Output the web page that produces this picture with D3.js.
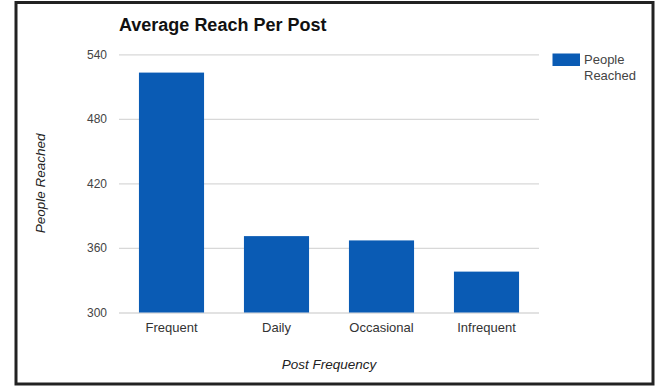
<!DOCTYPE html>
<html>
<head>
<meta charset="utf-8">
<script src="https://cdn.jsdelivr.net/npm/d3@7/dist/d3.min.js"></script>
<style>
  html, body { margin: 0; padding: 0; background: #fff; }
  svg { display: block; font-family: Arial, "Liberation Sans", sans-serif; }
</style>
</head>
<body>
<svg id="chart" width="666" height="387"></svg>
<script>
// Average reach per post, by posting frequency
const categories = ["Frequent", "Daily", "Occasional", "Infrequent"];
const peopleReached = [523, 371, 367, 338];
const yTicks = [300, 360, 420, 480, 540];
const seriesName = "People Reached";
const title = "Average Reach Per Post";
const xTitle = "Post Frequency";
const yTitle = "People Reached";

const svg = d3.select("#chart");
const plot = { left: 119, right: 539, top: 54.3, bottom: 312.5 };

// Frame around the whole chart
svg.append("rect")
  .attr("x", 16).attr("y", 2.5).attr("width", 637).attr("height", 381.5)
  .attr("fill", "#fff").attr("stroke", "#222").attr("stroke-width", 3);

const x = d3.scaleBand()
  .domain(categories)
  .range([plot.left, plot.right])
  .paddingInner(0.38)
  .paddingOuter(0.19);

const y = d3.scaleLinear()
  .domain([300, 540])
  .range([plot.bottom, plot.top]);

// Gridlines and y tick labels
const yAxis = d3.axisLeft(y).tickValues(yTicks).tickSize(-(plot.right - plot.left)).tickPadding(12).tickFormat(d3.format("d"));
const gy = svg.append("g").attr("transform", `translate(${plot.left},0)`).call(yAxis);
gy.select(".domain").remove();
gy.selectAll(".tick line").attr("stroke", "#d8d8d8").attr("stroke-width", 1.3);
gy.selectAll(".tick text").attr("fill", "#444").attr("font-size", 12).attr("font-family", "Arial, 'Liberation Sans', sans-serif");

// Bars
svg.append("g").selectAll("rect")
  .data(categories.map((c, i) => ({ c, v: peopleReached[i] })))
  .join("rect")
  .attr("x", d => x(d.c))
  .attr("width", x.bandwidth())
  .attr("y", d => y(d.v))
  .attr("height", d => y(300) - y(d.v))
  .attr("fill", "#0a5bb4");

// Category labels
const xAxis = d3.axisBottom(x).tickSize(0).tickPadding(10);
const gx = svg.append("g").attr("transform", `translate(0,${plot.bottom})`).call(xAxis);
gx.select(".domain").remove();
gx.selectAll(".tick text").attr("fill", "#333").attr("font-size", 13).attr("font-family", "Arial, 'Liberation Sans', sans-serif");

// Title
svg.append("text")
  .attr("x", 119).attr("y", 31)
  .attr("font-size", 18).attr("font-weight", "bold").attr("fill", "#111")
  .text(title);

// Axis titles
svg.append("text")
  .attr("x", (plot.left + plot.right) / 2).attr("y", 369)
  .attr("text-anchor", "middle").attr("font-style", "italic")
  .attr("font-size", 13.5).attr("fill", "#222")
  .text(xTitle);

svg.append("text")
  .attr("transform", `translate(45,${(plot.top + plot.bottom) / 2}) rotate(-90)`)
  .attr("text-anchor", "middle").attr("font-style", "italic")
  .attr("font-size", 13.5).attr("fill", "#222")
  .text(yTitle);

// Legend (text clipped at the chart's right edge)
svg.append("clipPath").attr("id", "legendClip")
  .append("rect").attr("x", 540).attr("y", 40).attr("width", 97).attr("height", 60);
const legend = svg.append("g").attr("clip-path", "url(#legendClip)");
legend.append("rect")
  .attr("x", 552.5).attr("y", 53.5).attr("width", 27.5).attr("height", 12.5)
  .attr("fill", "#0a5bb4");
const words = seriesName.split(" ");
legend.selectAll("text.leg")
  .data(words)
  .join("text")
  .attr("class", "leg")
  .attr("x", 584).attr("y", (d, i) => 64 + i * 16)
  .attr("font-size", 13).attr("fill", "#444")
  .text(d => d);
</script>
</body>
</html>
